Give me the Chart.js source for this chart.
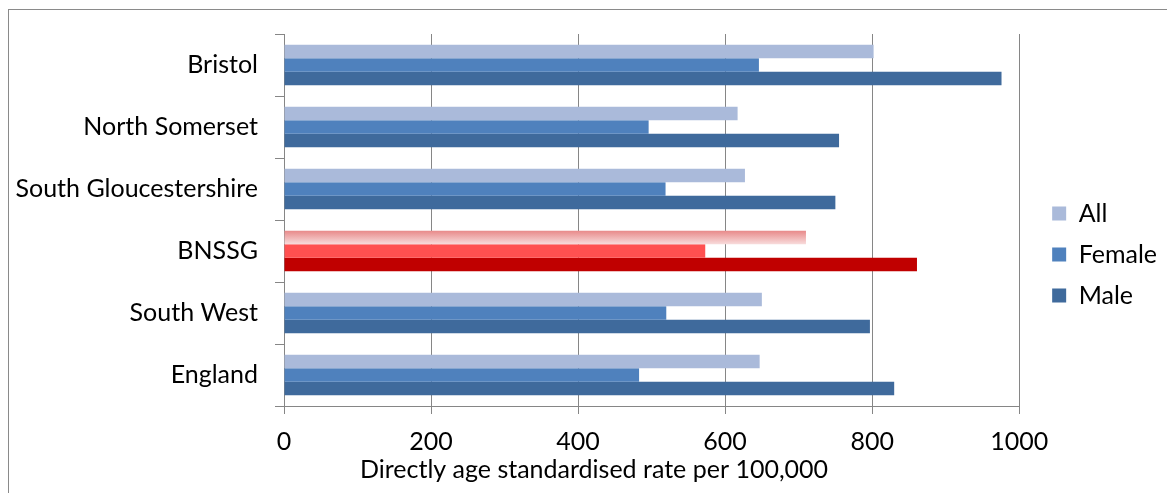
<!DOCTYPE html>
<html>
<head>
<meta charset="utf-8">
<script src="https://cdn.jsdelivr.net/npm/chart.js@4.4.0/dist/chart.umd.min.js"></script>
<style>
  body { margin: 0; background: #fff; }
  #wrap { position: relative; width: 1167px; height: 493px; }
  #frame { position: absolute; left: 8px; top: 9px; width: 1200px; height: 520px; border: 1px solid #8a8a8a; pointer-events: none; }
</style>
</head>
<body>
<div id="wrap">
  <canvas id="chart" width="1167" height="493"></canvas>
  <div id="frame"></div>
</div>
<script>
// data
const categories = ['Bristol', 'North Somerset', 'South Gloucestershire', 'BNSSG', 'South West', 'England'];
const allValues = [802, 617, 627, 710, 650, 647];
const femaleValues = [646, 496, 519, 573, 520, 483];
const maleValues = [976, 755, 750, 861, 797, 830];
const xTicks = [0, 200, 400, 600, 800, 1000];
const seriesNames = ['All', 'Female', 'Male'];
const axisTitle = 'Directly age standardised rate per 100,000';
const highlight = 'BNSSG';

// colours
const seriesColors = ['#AABADA', '#4F81BD', '#3F6A9C'];
const highlightColors = ['#F0B4B4', '#FF5050', '#C00000'];
const FONT = 'Lato';
const FS = 25;
const GRID = '#868686';

function colorsFor(i) {
  return categories.map(c => c === highlight ? highlightColors[i] : seriesColors[i]);
}

// BNSSG "All" bar has a pink vertical gradient
const gradientPlugin = {
  id: 'bnssgGradient',
  beforeDatasetsDraw(chart) {
    const el = chart.getDatasetMeta(0).data[categories.indexOf(highlight)];
    if (!el) return;
    const g = chart.ctx.createLinearGradient(0, el.y - el.height / 2, 0, el.y + el.height / 2);
    g.addColorStop(0, '#E88A8A');
    g.addColorStop(1, '#F8DCDC');
    try { el.options.backgroundColor = g; } catch (e) {}
  }
};

// nudge legend to where Excel put it
const legendShift = {
  id: 'legendShift',
  afterLayout(chart) {
    const lg = chart.legend;
    lg.left += 17; lg.right += 17;
    lg.top -= 9; lg.bottom -= 9;
  }
};

// x axis title, centred under the whole chart like Excel does
const axisTitlePlugin = {
  id: 'axisTitle',
  afterDraw(chart) {
    const ctx = chart.ctx;
    ctx.save();
    ctx.font = FS + 'px ' + FONT;
    ctx.fillStyle = '#000';
    ctx.textAlign = 'center';
    ctx.textBaseline = 'middle';
    ctx.fillText(axisTitle, chart.width * 0.509, chart.scales.x.bottom - 23);
    ctx.restore();
  }
};

const datasets = [allValues, femaleValues, maleValues].map((vals, i) => ({
  label: seriesNames[i],
  data: vals,
  backgroundColor: colorsFor(i),
  borderWidth: 0,
  categoryPercentage: 0.65,
  barPercentage: 1.0
}));

new Chart(document.getElementById('chart'), {
  type: 'bar',
  data: { labels: categories, datasets: datasets },
  options: {
    indexAxis: 'y',
    responsive: false,
    animation: false,
    devicePixelRatio: 1,
    layout: { padding: { top: 34, right: 17, bottom: 0, left: 0 } },
    plugins: {
      tooltip: { enabled: false },
      legend: {
        position: 'right',
        labels: {
          color: '#000',
          font: { family: FONT, size: FS },
          boxWidth: 14,
          boxHeight: 14,
          padding: 16,
          generateLabels: chart => chart.data.datasets.map((ds, i) => ({
            text: ds.label,
            fillStyle: seriesColors[i],
            strokeStyle: seriesColors[i],
            lineWidth: 0,
            hidden: false,
            datasetIndex: i
          }))
        }
      }
    },
    scales: {
      x: {
        min: 0,
        max: 1000,
        afterBuildTicks: s => { s.ticks = xTicks.map(v => ({ value: v })); },
        afterFit: s => { s.height = 87; },
        grid: { color: GRID, lineWidth: 1, tickLength: 8 },
        border: { color: GRID },
        ticks: { color: '#000', font: { family: FONT, size: FS }, padding: 13, maxRotation: 0, callback: v => String(v) }
      },
      y: {
        afterFit: s => { s.width = 284; },
        grid: { drawOnChartArea: false, color: GRID, tickLength: 9, offset: true },
        border: { color: GRID },
        ticks: { color: '#000', font: { family: FONT, size: FS }, padding: 17 }
      }
    }
  },
  plugins: [gradientPlugin, legendShift, axisTitlePlugin]
});
</script>
</body>
</html>
